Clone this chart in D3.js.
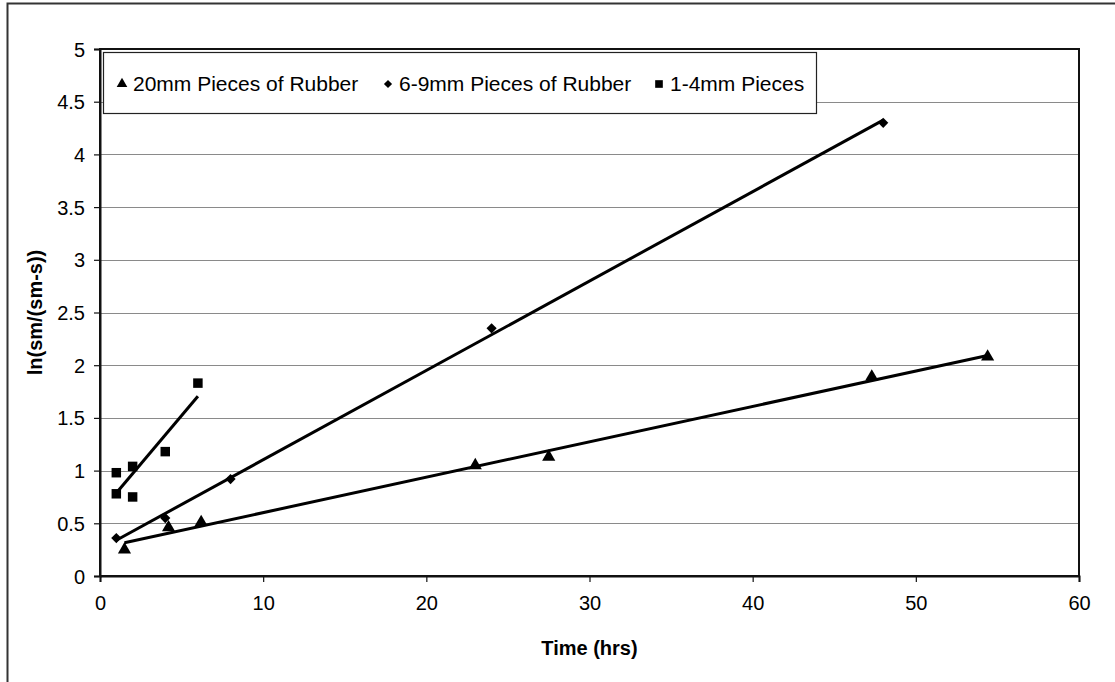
<!DOCTYPE html>
<html>
<head>
<meta charset="utf-8">
<script src="https://cdn.jsdelivr.net/npm/d3@7"></script>
<style>
  html, body { margin: 0; padding: 0; background: #fff; }
  svg { display: block; font-family: "Liberation Sans", Arial, sans-serif; }
</style>
</head>
<body>
<svg id="chart" width="1115" height="682"></svg>
<script>
// Time (hrs) and ln(sm/(sm-s)) readings for each rubber size
const seriesNames = ["20mm Pieces of Rubber", "6-9mm Pieces of Rubber", "1-4mm Pieces"];
const symbols = ["triangle", "diamond", "square"];

const time20mm = [1.5, 4.2, 6.2, 23, 27.5, 47.3, 54.4];
const ln20mm   = [0.25, 0.46, 0.51, 1.05, 1.13, 1.89, 2.08];

const time69mm = [1, 4, 8, 24, 48];
const ln69mm   = [0.36, 0.55, 0.92, 2.35, 4.30];

const time14mm = [1, 1, 2, 2, 4, 6];
const ln14mm   = [0.98, 0.78, 1.04, 0.75, 1.18, 1.83];

const xTicks = [0, 10, 20, 30, 40, 50, 60];
const yTicks = [0, 0.5, 1, 1.5, 2, 2.5, 3, 3.5, 4, 4.5, 5];

const series = [
  { name: seriesNames[0], symbol: symbols[0], xs: time20mm, ys: ln20mm },
  { name: seriesNames[1], symbol: symbols[1], xs: time69mm, ys: ln69mm },
  { name: seriesNames[2], symbol: symbols[2], xs: time14mm, ys: ln14mm }
];

const svg = d3.select("#chart");
const plotL = 100, plotR = 1079, plotT = 49, plotB = 576;

const x = d3.scaleLinear().domain([0, 60]).range([plotL, plotR]);
const y = d3.scaleLinear().domain([0, 5]).range([plotB, plotT]);

// outer chart frame
svg.append("rect")
  .attr("x", 7.5).attr("y", 3.5).attr("width", 1120).attr("height", 700)
  .attr("fill", "none").attr("stroke", "#333").attr("stroke-width", 2);

// horizontal gridlines
svg.append("g").selectAll("line")
  .data(yTicks.filter(d => d > 0 && d < 5))
  .join("line")
  .attr("x1", plotL).attr("x2", plotR)
  .attr("y1", d => Math.round(y(d)) + 0.5).attr("y2", d => Math.round(y(d)) + 0.5)
  .attr("stroke", "#8a8a8a").attr("stroke-width", 1.2);

// plot area border
svg.append("rect")
  .attr("x", plotL).attr("y", plotT)
  .attr("width", plotR - plotL).attr("height", plotB - plotT)
  .attr("fill", "none").attr("stroke", "#111").attr("stroke-width", 2);

// axes
const xAxis = d3.axisBottom(x).tickValues(xTicks).tickSize(6).tickPadding(14).tickFormat(d3.format("d"));
const yAxis = d3.axisLeft(y).tickValues(yTicks).tickSize(6).tickPadding(9).tickFormat(d => String(d));

const gx = svg.append("g").attr("transform", `translate(0,${plotB})`).call(xAxis);
const gy = svg.append("g").attr("transform", `translate(${plotL},0)`).call(yAxis);
[gx, gy].forEach(g => {
  g.select(".domain").attr("stroke", "#111").attr("stroke-width", 2);
  g.selectAll(".tick line").attr("stroke", "#111").attr("stroke-width", 1.2);
  g.selectAll(".tick text")
    .attr("fill", "#000")
    .style("font-family", "'Liberation Sans', Arial, sans-serif")
    .style("font-size", "20px");
});
gx.selectAll(".tick text").attr("dy", "0.71em");
gy.selectAll(".tick text").attr("dy", "0.35em");

// axis titles
svg.append("text")
  .attr("x", (plotL + plotR) / 2).attr("y", 655)
  .attr("text-anchor", "middle")
  .style("font-size", "20px").style("font-weight", "bold")
  .text("Time (hrs)");

svg.append("text")
  .attr("transform", `translate(42,${(plotT + plotB) / 2}) rotate(-90)`)
  .attr("text-anchor", "middle")
  .style("font-size", "20px").style("font-weight", "bold")
  .text("ln(sm/(sm-s))");

// linear least-squares trendline over each series' time range
function fit(xs, ys) {
  const mx = d3.mean(xs), my = d3.mean(ys);
  const sxy = d3.sum(xs, (v, i) => (v - mx) * (ys[i] - my));
  const sxx = d3.sum(xs, v => (v - mx) * (v - mx));
  const slope = sxy / sxx;
  return { slope, intercept: my - slope * mx };
}

const lineGen = d3.line().x(d => x(d[0])).y(d => y(d[1]));
series.forEach(s => {
  const f = fit(s.xs, s.ys);
  const [x0, x1] = d3.extent(s.xs);
  svg.append("path")
    .attr("d", lineGen([[x0, f.intercept + f.slope * x0], [x1, f.intercept + f.slope * x1]]))
    .attr("stroke", "#000").attr("stroke-width", 3).attr("fill", "none");
});

// markers: diamonds are squares turned 45 degrees
const symbolType = { triangle: d3.symbolTriangle, diamond: d3.symbolSquare, square: d3.symbolSquare };
const symbolSize = { triangle: 75, diamond: 52, square: 90 };
const symbolRot = { triangle: 0, diamond: 45, square: 0 };

series.forEach(s => {
  svg.append("g").selectAll("path")
    .data(s.xs.map((v, i) => [v, s.ys[i]]))
    .join("path")
    .attr("transform", d => `translate(${x(d[0])},${y(d[1])}) rotate(${symbolRot[s.symbol]})`)
    .attr("d", d3.symbol().type(symbolType[s.symbol]).size(symbolSize[s.symbol]))
    .attr("fill", "#000");
});

// legend
const legend = svg.append("g");
legend.append("rect")
  .attr("x", 103.5).attr("y", 52.5).attr("width", 713).attr("height", 61)
  .attr("fill", "#fff").attr("stroke", "#222").attr("stroke-width", 1.2);

const entryX = [122, 388, 659];
series.forEach((s, i) => {
  legend.append("path")
    .attr("transform", `translate(${entryX[i]},84) rotate(${symbolRot[s.symbol]})`)
    .attr("d", d3.symbol().type(symbolType[s.symbol]).size(symbolSize[s.symbol] * 0.65))
    .attr("fill", "#000");
  legend.append("text")
    .attr("x", entryX[i] + 11).attr("y", 84).attr("dy", "0.35em")
    .style("font-size", "21px")
    .text(s.name);
});
</script>
</body>
</html>
